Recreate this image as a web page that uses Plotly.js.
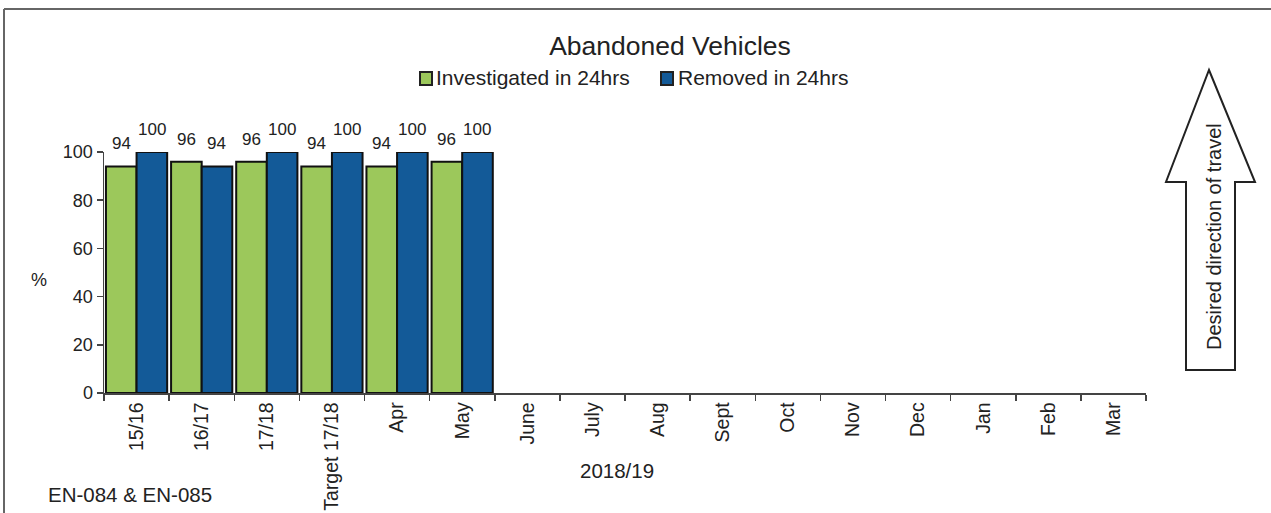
<!DOCTYPE html>
<html>
<head>
<meta charset="utf-8">
<script src="https://cdn.plot.ly/plotly-3.0.1.min.js"></script>
<style>html,body{margin:0;padding:0;background:#fff;}#chart{width:1271px;height:513px;}</style>
</head>
<body>
<div id="chart"></div>
<script>
// ---- data ----
const categories = ["15/16","16/17","17/18","Target 17/18","Apr","May","June","July","Aug","Sept","Oct","Nov","Dec","Jan","Feb","Mar"];
const investigated = [94, 96, 96, 94, 94, 96, null, null, null, null, null, null, null, null, null, null];
const removed = [100, 94, 100, 100, 100, 100, null, null, null, null, null, null, null, null, null, null];
const seriesNames = ["Investigated in 24hrs", "Removed in 24hrs"];
const seriesColors = ["#9cc85b", "#135a98"];
const chartTitle = "Abandoned Vehicles";
const periodLabel = "2018/19";
const codeLabel = "EN-084 & EN-085";
const arrowLabel = "Desired direction of travel";

// ---- layout geometry ----
const W = 1271, H = 513;
const M = {l: 104, r: 125, t: 152, b: 120};
const PW = W - M.l - M.r, PH = H - M.t - M.b;
const px = x => (x - M.l) / PW;
const py = y => (H - M.b - y) / PH;
const FONT = "Liberation Sans, Arial, sans-serif";
const BARGAP = 0.06;
const barHalf = (PW / categories.length) * (1 - BARGAP) / 4;

const traces = [investigated, removed].map((vals, s) => ({
  type: "bar", name: seriesNames[s], x: categories, y: vals,
  marker: {color: seriesColors[s], line: {color: "#111", width: 2}},
  hoverinfo: "x+y", showlegend: false
}));

// data labels
const labelAnns = [];
[investigated, removed].forEach((vals, s) => {
  vals.forEach((v, i) => {
    if (v === null) return;
    labelAnns.push({
      text: String(v), xref: "x", yref: "y", x: categories[i], y: v,
      xshift: (s === 0 ? -1 : 1) * barHalf, yshift: 11,
      xanchor: "center", yanchor: "bottom", showarrow: false,
      font: {size: 17, color: "#222"}
    });
  });
});

const arrowPath = [
  [1209, 70], [1255, 182], [1235, 182], [1235, 370], [1186, 370], [1186, 182], [1166, 182]
].map((p, i) => (i === 0 ? "M" : "L") + px(p[0]).toFixed(5) + "," + py(p[1]).toFixed(5)).join(" ") + " Z";

// custom legend (positions)
const legendBoxes = [[420, 432], [661, 673]];
const legendTextX = [434, 676];
const legendY = 78.5;

const legendShapes = legendBoxes.map((b, s) => ({
  type: "rect", xref: "paper", yref: "paper",
  x0: px(b[0]), x1: px(b[1]), y0: py(legendY - 6.5), y1: py(legendY + 6.5),
  fillcolor: seriesColors[s], line: {color: "#222", width: 2}
}));
const legendAnns = seriesNames.map((n, s) => ({
  text: n, xref: "paper", yref: "paper", x: px(legendTextX[s]), y: py(legendY - 1),
  xanchor: "left", yanchor: "middle", showarrow: false, font: {size: 21, color: "#222"}
}));

const layout = {
  width: W, height: H,
  margin: M,
  paper_bgcolor: "#fff", plot_bgcolor: "#fff",
  font: {family: FONT, color: "#222", size: 18},
  showlegend: false,
  barmode: "group", bargap: BARGAP, bargroupgap: 0,
  title: {text: chartTitle, font: {size: 26.5, color: "#222", family: FONT}, x: px(670), xanchor: "center", xref: "paper", y: 1 - 46 / H, yanchor: "middle", yref: "container"},
  xaxis: {
    type: "category", range: [-0.5, 15.5], showgrid: false, zeroline: false,
    showline: true, linecolor: "#444", linewidth: 1.5,
    ticks: "outside", tickson: "boundaries", ticklen: 6, tickcolor: "#444", tickwidth: 1.5,
    tickangle: -90, tickfont: {size: 19.5, color: "#222"}, fixedrange: true
  },
  yaxis: {
    range: [0, 100], tickvals: [0, 20, 40, 60, 80, 100], showgrid: false, zeroline: false,
    showline: true, linecolor: "#444", linewidth: 1.5,
    ticks: "outside", ticklen: 6, tickcolor: "#444", tickwidth: 1.5,
    tickfont: {size: 18, color: "#222"}, fixedrange: true
  },
  annotations: [
    {text: "%", xref: "paper", yref: "paper", x: px(39), y: py(280), xanchor: "center", yanchor: "middle", showarrow: false, font: {size: 18}},
    {text: periodLabel, xref: "paper", yref: "paper", x: px(617), y: py(470), xanchor: "center", yanchor: "middle", showarrow: false, font: {size: 20.5}},
    {text: codeLabel, xref: "paper", yref: "paper", x: px(130), y: py(494), xanchor: "center", yanchor: "middle", showarrow: false, font: {size: 20.5}},
    {text: arrowLabel, xref: "paper", yref: "paper", x: px(1214), y: py(237), xanchor: "center", yanchor: "middle", textangle: -90, showarrow: false, font: {size: 20}}
  ].concat(labelAnns, legendAnns),
  shapes: [
    {type: "path", xref: "paper", yref: "paper", path: arrowPath, line: {color: "#222", width: 2}, fillcolor: "#fff"},
    {type: "line", xref: "paper", yref: "paper", x0: px(4), y0: py(9), x1: px(1271), y1: py(9), line: {color: "#666", width: 2}},
    {type: "line", xref: "paper", yref: "paper", x0: px(4), y0: py(9), x1: px(4), y1: py(513), line: {color: "#666", width: 2}}
  ].concat(legendShapes)
};

Plotly.newPlot("chart", traces, layout, {displayModeBar: false, staticPlot: true});
</script>
</body>
</html>
